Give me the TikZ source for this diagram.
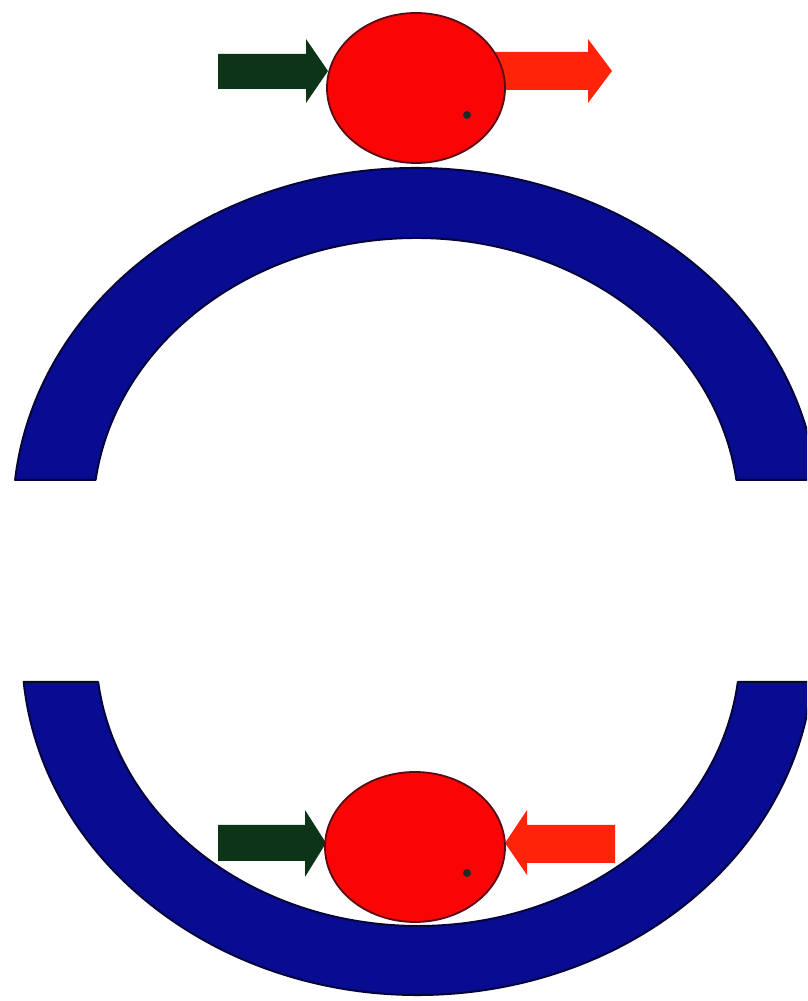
\documentclass[tikz,border=0pt]{standalone}
\definecolor{ringblue}{RGB}{8,12,145}
\definecolor{ringedge}{RGB}{5,5,60}
\definecolor{ballred}{RGB}{250,5,5}
\definecolor{balledge}{RGB}{90,10,20}
\definecolor{pushgreen}{RGB}{12,52,22}
\definecolor{pushred}{RGB}{255,35,10}
\begin{document}
\begin{tikzpicture}[x=1pt,y=1pt,
  ring/.style={fill=ringblue,draw=ringedge,line width=2pt,line join=round},
  ball/.style={fill=ballred,draw=balledge,line width=1.8pt},
  greenarrow/.style={fill=pushgreen},
  redarrow/.style={fill=pushred},
  speck/.style={fill=black!85}]
\useasboundingbox (0,0) rectangle (807,1001);
\fill[white] (0,0) rectangle (807,1001);
\clip (0,0) rectangle (807,1001);
% top ring (upper arc)
\draw[ring] (15.1,521) arc[start angle=174.21,end angle=5.79,x radius=403,y radius=347]
  -- (736.4,521) arc[start angle=7.26,end angle=172.74,x radius=323,y radius=277] -- cycle;
% bottom ring (lower arc)
\draw[ring] (23.7,319) arc[start angle=185.32,end angle=354.68,x radius=396,y radius=345]
  -- (737.8,319) arc[start angle=353.34,end angle=186.66,x radius=322,y radius=276] -- cycle;
% top arrows
\fill[greenarrow] (218,912) -- (306,912) -- (306,898) -- (328,930) -- (306,962) -- (306,947) -- (218,947) -- cycle;
\fill[redarrow] (495,911) -- (588,911) -- (588,898) -- (612,930) -- (588,962) -- (588,949) -- (495,949) -- cycle;
% bottom arrows
\fill[greenarrow] (218,140) -- (305,140) -- (305,124) -- (326,158) -- (305,191) -- (305,176) -- (218,176) -- cycle;
\fill[redarrow] (615,138) -- (527,138) -- (527,126) -- (505,158) -- (527,191) -- (527,176) -- (615,176) -- cycle;
% balls
\draw[ball] (416,913) ellipse[x radius=89,y radius=75];
\draw[ball] (415,154) ellipse[x radius=90,y radius=75];
\fill[speck] (467,886) circle[radius=4];
\fill[speck] (467,128) circle[radius=4];
\end{tikzpicture}
\end{document}
